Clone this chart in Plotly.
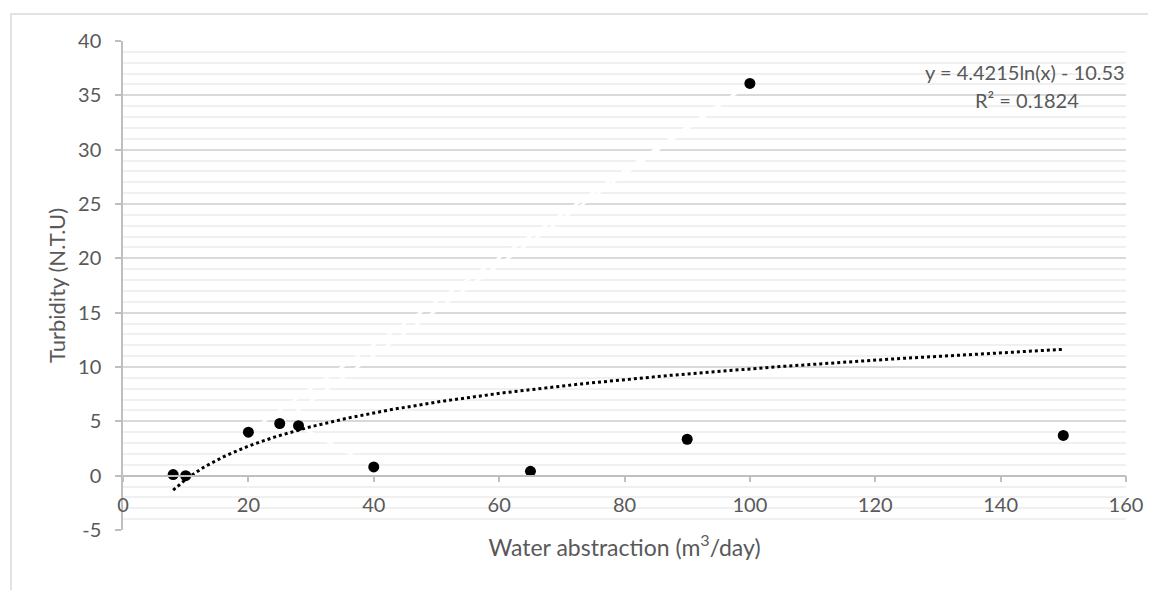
import plotly.graph_objects as go
import numpy as np

# ---- data ----
abstraction = [8, 10, 20, 25, 28, 40, 65, 90, 100, 150]          # m3/day
turbidity = [0.1, 0.0, 4.0, 4.8, 4.6, 0.8, 0.4, 3.35, 36.1, 3.7]  # N.T.U

# order in which the (white) series connector line joins the points
connector_x = [10, 40, 28, 25, 100, 20]

# logarithmic trendline coefficients shown on the chart
trend_a = 4.4215
trend_b = -10.53
trend_r2 = 0.1824

x_ticks = [0, 20, 40, 60, 80, 100, 120, 140, 160]
y_ticks = [-5, 0, 5, 10, 15, 20, 25, 30, 35, 40]

FONT = "Lato"
GREY_TXT = "#595959"

lookup = dict(zip(abstraction, turbidity))
conn_y = [lookup[v] for v in connector_x]

tx = np.linspace(min(abstraction), max(abstraction), 300)
ty = trend_a * np.log(tx) + trend_b

fig = go.Figure()

fig.add_trace(go.Scatter(x=connector_x, y=conn_y, mode="lines",
                         line=dict(color="white", width=2.5),
                         hoverinfo="skip", showlegend=False))

fig.add_trace(go.Scatter(x=tx, y=ty, mode="lines",
                         line=dict(color="black", width=3, dash="dot"),
                         hoverinfo="skip", showlegend=False))

fig.add_trace(go.Scatter(x=abstraction, y=turbidity, mode="markers",
                         marker=dict(color="black", size=11),
                         showlegend=False))

# page offset (body margin) of 8 px is compensated here
OFF = 8
W, H = 1156, 590
L, T = 123 - OFF, 41 - OFF
R = W - (1126 - OFF)
B = H - (530 - OFF)
pw, ph = W - L - R, H - T - B

def px_x(p):
    return (p - OFF - L) / pw

def px_y(p):
    return (H - B - (p - OFF)) / ph

TICK = 20
TITLE = 23
ANN = 20

fig.update_layout(
    width=W, height=H,
    margin=dict(l=L, r=R, t=T, b=B, autoexpand=False),
    paper_bgcolor="white", plot_bgcolor="white",
    font=dict(family=FONT, color=GREY_TXT, size=TICK),
    xaxis=dict(
        range=[0, 160], tickvals=x_ticks, ticktext=[str(v) for v in x_ticks],
        showgrid=False, zeroline=False,
        showline=True, linecolor="#bfbfbf", linewidth=1.5,
        ticks="outside", ticklen=6, tickcolor="#bfbfbf", tickwidth=1.5,
        anchor="free", position=5 / 45,
        ticklabelstandoff=6,
        tickfont=dict(size=TICK, color=GREY_TXT),
        title=dict(text="Water abstraction (m<sup>3</sup>/day)",
                   font=dict(size=TITLE, color=GREY_TXT), standoff=23),
    ),
    yaxis=dict(
        range=[-5, 40], tickvals=y_ticks, ticktext=[str(v) for v in y_ticks],
        showgrid=True, gridcolor="#d9d9d9", gridwidth=1.5,
        zeroline=False,
        showline=True, linecolor="#bfbfbf", linewidth=1.5,
        ticks="outside", ticklen=6, tickcolor="#bfbfbf", tickwidth=1.5,
        ticklabelstandoff=10,
        minor=dict(dtick=1, showgrid=True, gridcolor="#f0f0f0", gridwidth=1.5),
        tickfont=dict(size=TICK, color=GREY_TXT),
        title=dict(text="Turbidity (N.T.U)",
                   font=dict(size=22, color=GREY_TXT), standoff=6),
    ),
    shapes=[dict(type="rect", xref="paper", yref="paper",
                 x0=px_x(11), x1=px_x(1170), y0=px_y(610), y1=px_y(14),
                 line=dict(color="#d9d9d9", width=1.5), layer="below")],
    annotations=[
        dict(xref="paper", yref="paper", x=px_x(1127), y=px_y(72),
             xanchor="right", yanchor="middle", showarrow=False,
             text=f"y = {trend_a}ln(x) - {abs(trend_b):.2f}",
             font=dict(size=ANN, color=GREY_TXT)),
        dict(xref="paper", yref="paper", x=px_x(1026.5), y=px_y(100),
             xanchor="center", yanchor="middle", showarrow=False,
             text=f"R² = {trend_r2}",
             font=dict(size=ANN, color=GREY_TXT)),
    ],
)

fig.write_html("out.html")
